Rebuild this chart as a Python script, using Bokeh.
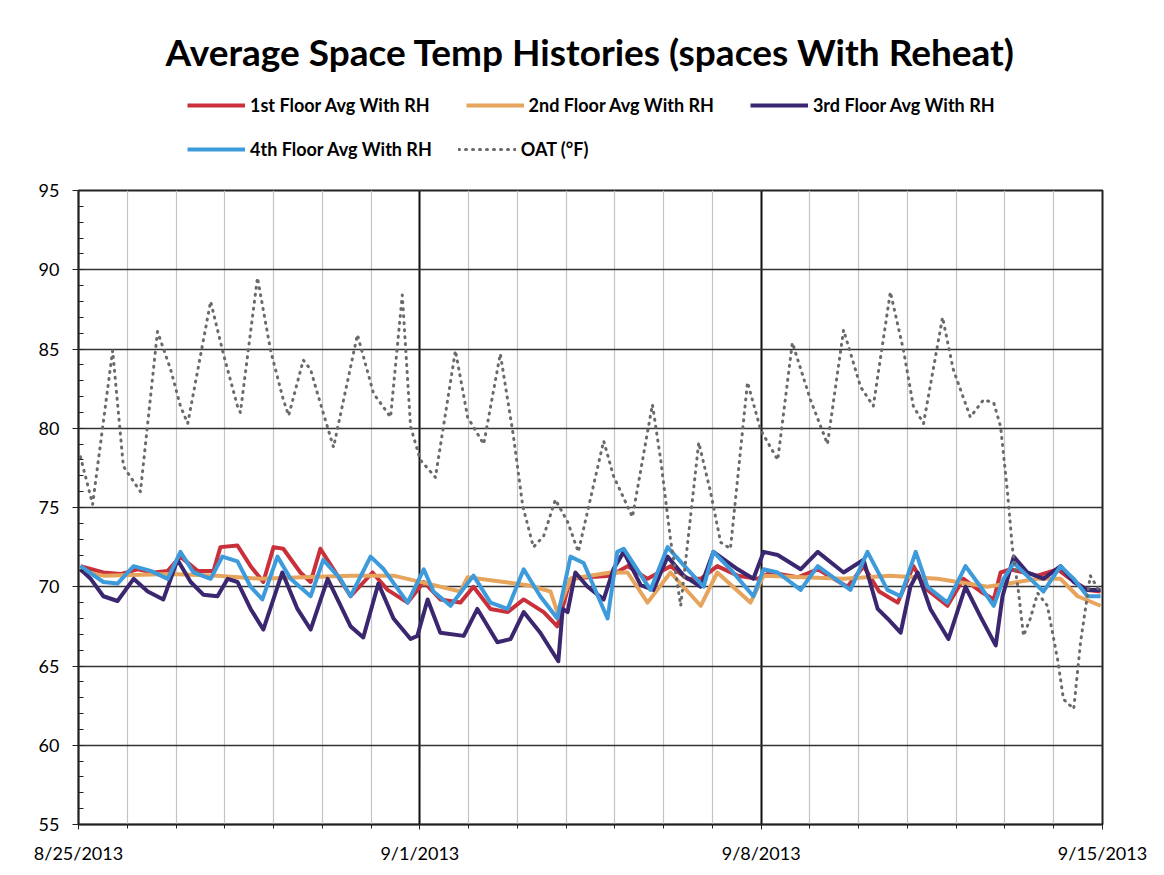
from bokeh.plotting import figure
from bokeh.layouts import column
from bokeh.models import Range1d, FixedTicker, Legend, LegendItem, Label
from bokeh.embed import file_html
from bokeh.resources import INLINE

# ---------------- data (x = days since 8/25/2013 00:00) ----------------
X_TICK_DAYS = [0, 7, 14, 21]
X_TICK_LABELS = ["8/25/2013", "9/1/2013", "9/8/2013", "9/15/2013"]
Y_TICKS = [55, 60, 65, 70, 75, 80, 85, 90, 95]

floor1_days = [0.04, 0.51, 0.86, 1.21, 1.54, 1.83, 2.09, 2.44, 2.77, 2.91, 3.26, 3.53, 3.79, 4.00, 4.20,
               4.55, 4.76, 4.96, 5.23, 5.58, 6.03, 6.34, 6.75, 7.08, 7.42, 7.83, 8.10, 8.45, 8.80, 9.13,
               9.54, 9.82, 10.09, 10.44, 10.91, 11.26, 11.67, 12.14, 12.49, 12.76, 13.10, 13.52, 13.93,
               14.19, 14.75, 15.16, 15.77, 16.10, 16.42, 16.80, 17.12, 17.41, 17.82, 18.15, 18.50, 18.77,
               18.91, 19.11, 19.67, 20.08, 20.34, 20.69, 20.96]
floor1_temp = [71.3, 70.9, 70.8, 71.1, 70.9, 71.0, 71.9, 71.0, 71.0, 72.5, 72.6, 71.3, 70.3, 72.5, 72.4,
               70.9, 70.3, 72.4, 71.1, 69.4, 70.9, 69.8, 69.0, 70.3, 69.2, 69.0, 70.0, 68.6, 68.4, 69.2,
               68.4, 67.5, 70.5, 70.6, 70.7, 71.3, 70.5, 71.3, 70.5, 70.5, 71.3, 70.7, 70.5,
               70.9, 70.6, 71.1, 70.0, 71.3, 69.7, 69.0, 71.3, 69.8, 68.8, 70.5, 69.7, 69.2,
               70.9, 71.1, 70.7, 71.1, 70.5, 69.8, 69.7]

floor2_days = [0.04, 0.51, 1.89, 2.85, 3.73, 4.61, 5.58, 6.46, 7.16, 7.83, 7.98, 9.21, 9.68, 9.82, 10.09,
               10.91, 11.26, 11.67, 12.14, 12.76, 13.10, 13.78, 14.05, 15.69, 16.65, 17.62, 18.64, 19.67,
               20.14, 20.49, 20.96]
floor2_temp = [71.0, 70.7, 70.8, 70.7, 70.5, 70.6, 70.7, 70.7, 70.2, 69.7, 70.6, 70.1, 69.7, 68.4, 70.5,
               70.9, 70.9, 69.0, 70.9, 68.8, 70.9, 69.0, 70.7, 70.5, 70.7, 70.5, 70.0, 70.5,
               70.5, 69.4, 68.8]

floor3_days = [0.04, 0.25, 0.51, 0.80, 1.13, 1.42, 1.74, 2.03, 2.30, 2.56, 2.85, 3.06, 3.26, 3.53, 3.79,
               4.18, 4.49, 4.76, 5.11, 5.58, 5.84, 6.15, 6.46, 6.81, 6.95, 7.16, 7.42, 7.90, 8.18, 8.59,
               8.86, 9.13, 9.47, 9.84, 9.93, 10.03, 10.19, 10.44, 10.77, 10.97, 11.18, 11.53, 11.79,
               12.08, 12.41, 12.76, 13.02, 13.52, 13.84, 14.05, 14.34, 14.81, 15.16, 15.69, 16.10,
               16.39, 16.59, 16.86, 17.06, 17.21, 17.47, 17.84, 18.19, 18.50, 18.81, 18.95, 19.18,
               19.46, 19.79, 20.14, 20.41, 20.69, 20.96]
floor3_temp = [71.1, 70.5, 69.4, 69.1, 70.5, 69.7, 69.2, 71.7, 70.3, 69.5, 69.4, 70.5, 70.3, 68.6, 67.3,
               70.9, 68.6, 67.3, 70.5, 67.5, 66.8, 70.2, 68.0, 66.7, 66.9, 69.2, 67.1, 66.9, 68.6, 66.5,
               66.7, 68.4, 67.1, 65.3, 68.6, 68.4, 70.9, 70.0, 69.2, 71.1, 72.2, 70.1, 69.8,
               71.9, 70.7, 70.0, 72.2, 71.1, 70.5, 72.2, 72.0, 71.1, 72.2, 70.9, 71.7,
               68.6, 68.0, 67.1, 70.0, 70.9, 68.6, 66.7, 70.0, 68.1, 66.3, 69.4, 71.9,
               70.9, 70.5, 71.3, 70.3, 69.8, 69.8]

floor4_days = [0.04, 0.51, 0.80, 1.13, 1.48, 1.83, 2.09, 2.36, 2.71, 2.95, 3.26, 3.53, 3.77, 4.08, 4.35,
               4.76, 5.02, 5.37, 5.58, 5.99, 6.26, 6.75, 7.08, 7.28, 7.63, 8.10, 8.45, 8.80, 9.13, 9.47,
               9.82, 10.09, 10.36, 10.85, 11.05, 11.18, 11.73, 12.08, 12.49, 12.82, 13.02, 13.37, 13.84,
               14.05, 14.34, 14.81, 15.16, 15.83, 16.18, 16.59, 16.86, 17.17, 17.41, 17.82, 18.19, 18.50,
               18.77, 18.97, 19.18, 19.52, 19.79, 20.14, 20.41, 20.69, 20.96]
floor4_temp = [71.3, 70.3, 70.2, 71.3, 71.0, 70.5, 72.2, 70.9, 70.5, 71.9, 71.6, 70.0, 69.2, 71.9, 70.5,
               69.4, 71.7, 70.5, 69.4, 71.9, 71.1, 69.0, 71.1, 69.7, 68.8, 70.7, 69.0, 68.6, 71.1, 69.4,
               68.0, 71.9, 71.5, 68.0, 72.2, 72.4, 69.8, 72.5, 71.1, 70.0, 72.2, 71.1, 69.4,
               71.1, 70.9, 69.8, 71.3, 69.8, 72.2, 69.8, 69.4, 72.2, 70.0, 69.0, 71.3, 70.0,
               68.8, 70.5, 71.5, 70.5, 69.7, 71.3, 70.5, 69.4, 69.4]

oat_days = [0.04, 0.29, 0.70, 0.92, 1.27, 1.62, 1.89, 2.09, 2.24, 2.71, 2.97, 3.26, 3.32, 3.67, 3.94,
            4.20, 4.31, 4.61, 4.76, 4.90, 5.23, 5.72, 6.05, 6.40, 6.64, 6.81, 7.01, 7.32, 7.73, 7.98,
            8.31, 8.65, 8.92, 9.11, 9.33, 9.54, 9.78, 10.03, 10.25, 10.77, 10.97, 11.36, 11.77, 11.94,
            12.14, 12.35, 12.72, 12.96, 13.17, 13.37, 13.72, 13.99, 14.34, 14.64, 15.01, 15.36, 15.69,
            16.04, 16.30, 16.65, 16.92, 17.12, 17.33, 17.72, 17.94, 18.29, 18.56, 18.77, 18.91, 19.05,
            19.15, 19.28, 19.38, 19.52, 19.67, 19.87, 20.08, 20.20, 20.41, 20.55, 20.75, 20.96]
oat_temp = [78.2, 75.2, 84.9, 77.6, 76.0, 86.1, 83.7, 81.4, 80.3, 88.0, 84.7, 81.4, 81.0, 89.5, 84.9,
            81.8, 80.8, 84.3, 83.7, 82.2, 78.8, 85.9, 82.2, 80.7, 88.4, 80.1, 78.0, 76.9, 84.9, 80.7,
            79.0, 84.7, 79.5, 75.1, 72.5, 73.2, 75.5, 74.1, 72.2, 79.2, 77.0, 74.4, 81.5, 78.0,
            73.0, 68.8, 79.1, 76.0, 72.8, 72.4, 82.9, 79.9, 78.0, 85.4, 81.8, 79.0, 86.2,
            82.6, 81.4, 88.6, 84.9, 81.4, 80.3, 87.0, 83.7, 80.7, 81.8, 81.6, 80.1, 76.0,
            72.5, 69.6, 66.9, 68.0, 69.6, 68.8, 65.4, 62.9, 62.3, 66.5, 70.7, 69.6]

SERIES_LABELS = ["1st Floor Avg With RH", "2nd Floor Avg With RH", "3rd Floor Avg With RH",
                 "4th Floor Avg With RH", "OAT (°F)"]
SERIES_COLORS = ["#C9303A", "#E6A45C", "#3B2670", "#3E9BDB", "#6a6a6a"]
TITLE = "Average Space Temp Histories (spaces With Reheat)"

FONT = "Lato"
W = 1156
HDR_H = 175
FRAME_L, FRAME_R = 78, 1102  # frame edges in page pixels (both figures share them)

# ---------------- header (title + legend) ----------------
# header coordinates are page pixels: x from frame left to frame right, y upward from header bottom
hdr = figure(width=W, height=HDR_H, x_range=Range1d(FRAME_L, FRAME_R), y_range=Range1d(0, HDR_H),
             output_backend="svg", toolbar_location=None, title=None,
             x_axis_type=None, y_axis_type=None,
             min_border_left=FRAME_L, min_border_right=W - FRAME_R, min_border_top=0, min_border_bottom=0)
hdr.outline_line_color = None
hdr.background_fill_color = "white"
hdr.border_fill_color = "white"

# legend proxies: same styles as the data lines, holding a single NaN so nothing is drawn
NAN = float("nan")
proxies = []
for i, c in enumerate(SERIES_COLORS):
    if i < 4:
        proxies.append(hdr.line(x=[NAN], y=[NAN], line_color=c, line_width=4))
    else:
        proxies.append(hdr.line(x=[NAN], y=[NAN], line_color=c, line_width=3, line_dash="1 6",
                                line_cap="round"))


def make_legend(idx, loc, spacing):
    return Legend(
        items=[LegendItem(label=SERIES_LABELS[i], renderers=[proxies[i]]) for i in idx],
        orientation="horizontal", location=loc,
        spacing=spacing, glyph_width=58, glyph_height=20, label_height=20, label_standoff=5,
        padding=0, margin=0, border_line_alpha=0, background_fill_alpha=0,
        label_text_font=FONT, label_text_font_style="bold", label_text_font_size="18px",
        label_text_color="black",
    )


hdr.add_layout(make_legend([0, 1, 2], (187 - FRAME_L, HDR_H - 116), 36), "center")
hdr.add_layout(make_legend([3, 4], (187 - FRAME_L, HDR_H - 160), 26), "center")
hdr.add_layout(Label(x=590, y=HDR_H - 51, text=TITLE, text_align="center", text_baseline="middle",
                     text_font=FONT, text_font_size="37px", text_font_style="bold",
                     text_color="black"))

# ---------------- main plot ----------------
p = figure(width=W, height=866 - HDR_H, x_range=Range1d(0, 21), y_range=Range1d(55, 95),
           output_backend="svg", toolbar_location=None, title=None,
           min_border_left=FRAME_L, min_border_right=W - FRAME_R, min_border_top=190 - HDR_H,
           min_border_bottom=40)
p.background_fill_color = "white"
p.border_fill_color = "white"
p.outline_line_color = "#222222"
p.outline_line_width = 2

p.xaxis.ticker = FixedTicker(ticks=X_TICK_DAYS, minor_ticks=list(range(0, 22)))
p.xaxis.major_label_overrides = {d: lab for d, lab in zip(X_TICK_DAYS, X_TICK_LABELS)}
p.yaxis.ticker = FixedTicker(ticks=Y_TICKS, minor_ticks=list(range(55, 96)))
for ax in (p.xaxis, p.yaxis):
    ax.axis_line_color = "#222222"
    ax.axis_line_width = 1.5
    ax.major_tick_line_color = "#222222"
    ax.minor_tick_line_color = "#222222"
    ax.major_label_text_font = FONT
    ax.major_label_text_font_size = "18px"
    ax.major_label_text_color = "black"
p.xaxis.major_tick_in = 0
p.xaxis.major_tick_out = 5
p.xaxis.minor_tick_in = 0
p.xaxis.minor_tick_out = 4
p.xaxis.major_label_standoff = 12
p.yaxis.major_tick_in = 0
p.yaxis.major_tick_out = 6
p.yaxis.minor_tick_in = 5
p.yaxis.minor_tick_out = 0
p.yaxis.major_label_standoff = 13

p.xgrid.grid_line_color = "#111111"
p.xgrid.grid_line_width = 2
p.xgrid.minor_grid_line_color = "#c4c4c4"
p.xgrid.minor_grid_line_width = 1.2
p.ygrid.grid_line_color = "#333333"
p.ygrid.grid_line_width = 1.6

series = [(floor1_days, floor1_temp), (floor2_days, floor2_temp), (floor3_days, floor3_temp),
          (floor4_days, floor4_temp)]
for (xs, ys), c in zip(series, SERIES_COLORS[:4]):
    p.line(xs, ys, line_color=c, line_width=4, line_join="round")
p.line(oat_days, oat_temp, line_color=SERIES_COLORS[4], line_width=3, line_dash="1 6",
       line_cap="round", line_join="round")

layout = column(hdr, p, spacing=0)
open("out.html", "w").write(file_html(layout, INLINE))
